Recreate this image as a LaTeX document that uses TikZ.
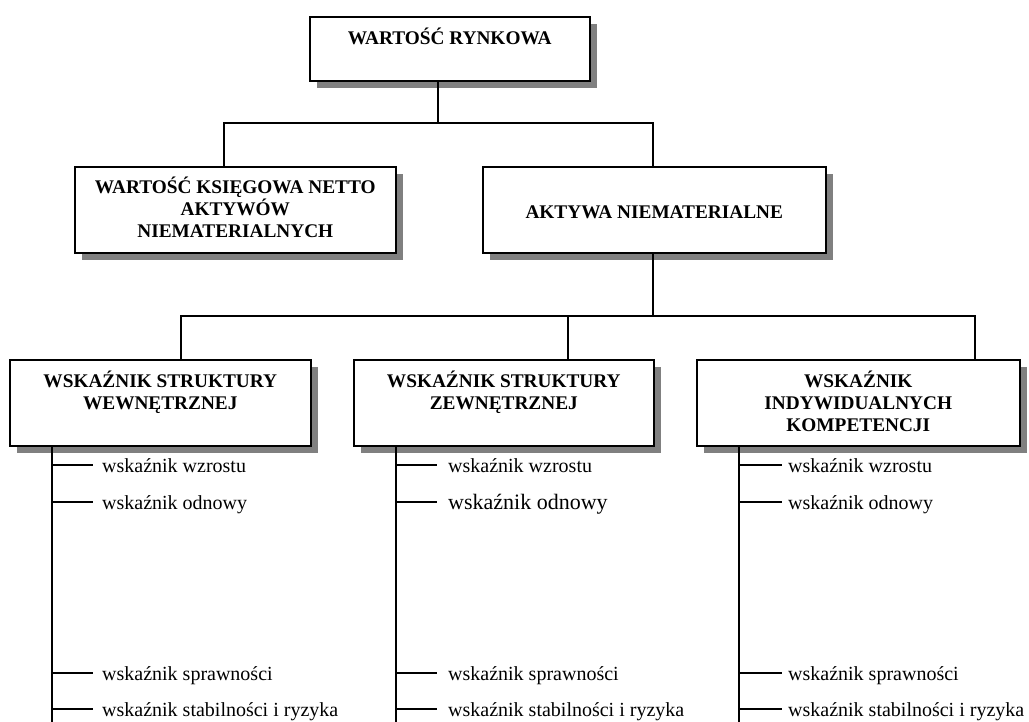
\documentclass[tikz,border=0pt]{standalone}
\usepackage{fontspec}
\setmainfont{Liberation Serif}
\usetikzlibrary{shadows}

% Box content: fixed-size minipage, first baseline set by a strut of height #3
\newcommand{\boxlines}[4]{\begin{minipage}[t][#2][t]{#1}\centering
  \fontsize{19.3}{21.8}\selectfont\bfseries\rule{0pt}{#3}#4\end{minipage}}

\tikzset{
  box/.style={draw, line width=1.6pt, fill=white, inner sep=0pt, anchor=north west,
    drop shadow={shadow xshift=7pt, shadow yshift=-7pt, fill=black!50, opacity=1}},
  conn/.style={line width=1.4pt},
  item/.style={inner xsep=9pt, inner ysep=0pt, text height=14pt, text depth=0pt,
    anchor=west, font=\fontsize{20}{24}\selectfont},
}

\begin{document}
\begin{tikzpicture}[x=1pt, y=-1pt]
\useasboundingbox (0,0) rectangle (1029,722);

% boxes
\node[box] (top) at (309,16) {\boxlines{280pt}{64pt}{28pt}{WARTOŚĆ RYNKOWA}};
\node[box] (book) at (74,166) {\boxlines{321pt}{86pt}{27pt}{WARTOŚĆ KSIĘGOWA NETTO\\AKTYWÓW\\NIEMATERIALNYCH}};
\node[box] (akt) at (482,166) {\boxlines{343pt}{86pt}{52pt}{AKTYWA NIEMATERIALNE}};
\node[box] (w1) at (9,359) {\boxlines{301pt}{86pt}{28pt}{WSKAŹNIK STRUKTURY\\WEWNĘTRZNEJ}};
\node[box] (w2) at (353,359) {\boxlines{300pt}{86pt}{28pt}{WSKAŹNIK STRUKTURY\\ZEWNĘTRZNEJ}};
\node[box] (w3) at (696,359) {\boxlines{323pt}{86pt}{28pt}{WSKAŹNIK\\INDYWIDUALNYCH\\KOMPETENCJI}};

% first level connectors
\coordinate (tj) at (438,123);
\coordinate (h1l) at (224,123);
\coordinate (h1r) at (653,123);
\draw[conn] (top.south -| tj) -- (tj);
\draw[conn] (book.north -| h1l) -- (h1l) -- (h1r) -- (akt.north -| h1r);

% second level connectors
\coordinate (h2l) at (181,316);
\coordinate (h2m) at (568,316);
\coordinate (h2r) at (975,316);
\draw[conn] (akt.south -| h1r) -- (h1r |- h2l);
\draw[conn] (w1.north -| h2l) -- (h2l) -- (h2r) -- (w3.north -| h2r);
\draw[conn] (h2m) -- (w2.north -| h2m);

% indicator lists
\coordinate (s1) at (52,722);
\coordinate (s2) at (396,722);
\coordinate (s3) at (739,722);
\draw[conn] (w1.south -| s1) -- (s1);
\draw[conn] (w2.south -| s2) -- (s2);
\draw[conn] (w3.south -| s3) -- (s3);

\node[item] (a1) at (93,465) {wskaźnik wzrostu};
\node[item] (a2) at (93,502) {wskaźnik odnowy};
\node[item] (a3) at (93,673) {wskaźnik sprawności};
\node[item] (a4) at (93,709) {wskaźnik stabilności i ryzyka};

\node[item, inner xsep=11pt] (b1) at (437,465) {wskaźnik wzrostu};
\node[item, inner xsep=11pt, font=\fontsize{22}{26}\selectfont] (b2) at (437,502) {wskaźnik odnowy};
\node[item, inner xsep=11pt] (b3) at (437,673) {wskaźnik sprawności};
\node[item, inner xsep=11pt] (b4) at (437,709) {wskaźnik stabilności i ryzyka};

\node[item, inner xsep=6pt] (c1) at (782,465) {wskaźnik wzrostu};
\node[item, inner xsep=6pt] (c2) at (782,502) {wskaźnik odnowy};
\node[item, inner xsep=6pt] (c3) at (782,673) {wskaźnik sprawności};
\node[item, inner xsep=6pt] (c4) at (782,709) {wskaźnik stabilności i ryzyka};

\foreach \n/\s in {a1/s1,a2/s1,a3/s1,a4/s1,b1/s2,b2/s2,b3/s2,b4/s2,c1/s3,c2/s3,c3/s3,c4/s3}
  \draw[conn] (\s |- \n.west) -- (\n.west);
\end{tikzpicture}
\end{document}
